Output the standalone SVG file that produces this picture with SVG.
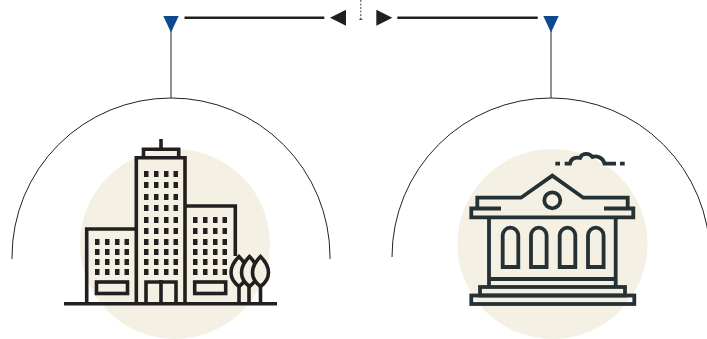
<svg xmlns="http://www.w3.org/2000/svg" width="707" height="339" viewBox="0 0 707 339">
<style>
.bg{fill:#f4f0e4}
.thin{fill:none;stroke:#222;stroke-width:1}
.b{fill:none;stroke:#231f20;stroke-width:3.6}
.g{fill:none;stroke:#263133;stroke-width:3.8}
.pin{fill:#0b4a8f}
.ar{fill:#231f20}
.w{fill:#231f20}
</style>
<defs>
<g id="r4"><rect width="4.500" height="6" x="0"/><rect width="4.500" height="6" x="10"/><rect width="4.500" height="6" x="20"/><rect width="4.500" height="6" x="29.500"/></g>
<path id="tree" d="M0 -16C-4 -12 -8 -6 -8 0C-8 6 -4 11 0 14C4 11 8 6 8 0C8 -6 4 -12 0 -16Z"/>
<path id="arch" d="M0 39V7.500A7.800 7.800 0 0 1 15.600 7.500V39Z"/>
</defs>
<g id="connectors">
<path class="thin" d="M12 259V257A159 159 0 0 1 330 257V259"/>
<path class="thin" d="M392 257A159 159 0 0 1 710 257"/>
<path class="thin" d="M171 30V98M551 30V98"/>
<path d="M184.500 17.700H324.300M397.300 17.700H537.700" fill="none" stroke="#231f20" stroke-width="2.500"/>
<path d="M360.800 0V19" fill="none" stroke="#444" stroke-width="1" stroke-dasharray="2 1.500"/>
<path d="M359.300 19.500H362.300" fill="none" stroke="#444" stroke-width="1"/>
<path class="ar" d="M330 17.700L346 9.700V25.700Z"/>
<path class="ar" d="M392.300 17.700L376.300 9.700V25.700Z"/>
<path class="pin" d="M163.300 16H178.700L171 32.500Z"/>
<path class="pin" d="M543.300 16H558.700L551 32.500Z"/>
</g>
<g id="office">
<circle class="bg" cx="175" cy="244" r="95"/>
<path class="b" d="M161 139V150M143.500 157.500V149.300H178.700V157.500"/>
<path class="b" d="M136.300 303V157.700H185V303"/>
<path class="b" d="M136.300 229H86.700V303"/>
<path class="b" d="M185 206H235.300V256"/>
<use href="#r4" class="w" x="144" y="171"/><use href="#r4" class="w" x="144" y="182"/>
<use href="#r4" class="w" x="144" y="194"/><use href="#r4" class="w" x="144" y="205"/>
<use href="#r4" class="w" x="144" y="217"/><use href="#r4" class="w" x="144" y="228"/>
<use href="#r4" class="w" x="144" y="239"/><use href="#r4" class="w" x="144" y="249"/>
<use href="#r4" class="w" x="144" y="259"/><use href="#r4" class="w" x="144" y="269"/>
<use href="#r4" class="w" x="95" y="239"/><use href="#r4" class="w" x="95" y="249"/>
<use href="#r4" class="w" x="95" y="259"/><use href="#r4" class="w" x="95" y="269"/>
<use href="#r4" class="w" x="193" y="217"/><use href="#r4" class="w" x="193" y="228"/>
<use href="#r4" class="w" x="193" y="239"/><use href="#r4" class="w" x="193" y="249"/>
<use href="#r4" class="w" x="193" y="259"/><use href="#r4" class="w" x="193" y="269"/>
<rect class="b" x="96.500" y="282" width="31" height="11.500"/>
<rect class="b" x="194.700" y="282" width="31" height="11.500"/>
<path class="b" d="M146 303V282H176V303M161 280V303"/>
<g class="b">
<path d="M239 285V303M249 285V303M260.500 285V303"/>
<use href="#tree" x="239" y="272.500" fill="#f4f0e4"/>
<use href="#tree" x="249.500" y="272.500" fill="#f4f0e4"/>
<use href="#tree" x="260.500" y="272.500" fill="#f4f0e4"/>
</g>
<path d="M64 303.700H277" fill="none" stroke="#231f20" stroke-width="3.600"/>
</g>
<g id="bank">
<circle class="bg" cx="552.500" cy="244" r="95"/>
<path class="g" d="M477.300 208V197.700H521L552.300 175.700L583.300 197.700H627.700V208"/>
<path class="g" d="M501 208.500H471.300V217.300H633.300V208.500H604"/>
<circle class="g" cx="552.300" cy="200.300" r="8"/>
<path class="g" d="M489 217V279M615.700 217V279M489 279H615.700M489 279V287M615.700 279V287"/>
<use href="#arch" class="g" x="502.700" y="228"/>
<use href="#arch" class="g" x="531" y="228"/>
<use href="#arch" class="g" x="559.700" y="228"/>
<use href="#arch" class="g" x="588" y="228"/>
<rect class="g" x="480" y="287" width="145" height="8.500"/>
<rect class="g" x="471.300" y="295.500" width="163" height="8.500"/>
<path class="g" d="M555.300 163.700H560M564.700 163.700H570C571 158 576 157 580 158C582 153 589 152.500 592.500 157C596 155.500 603 157 604.500 163.700H616M620 163.700H624.700"/>
</g>
</svg>
